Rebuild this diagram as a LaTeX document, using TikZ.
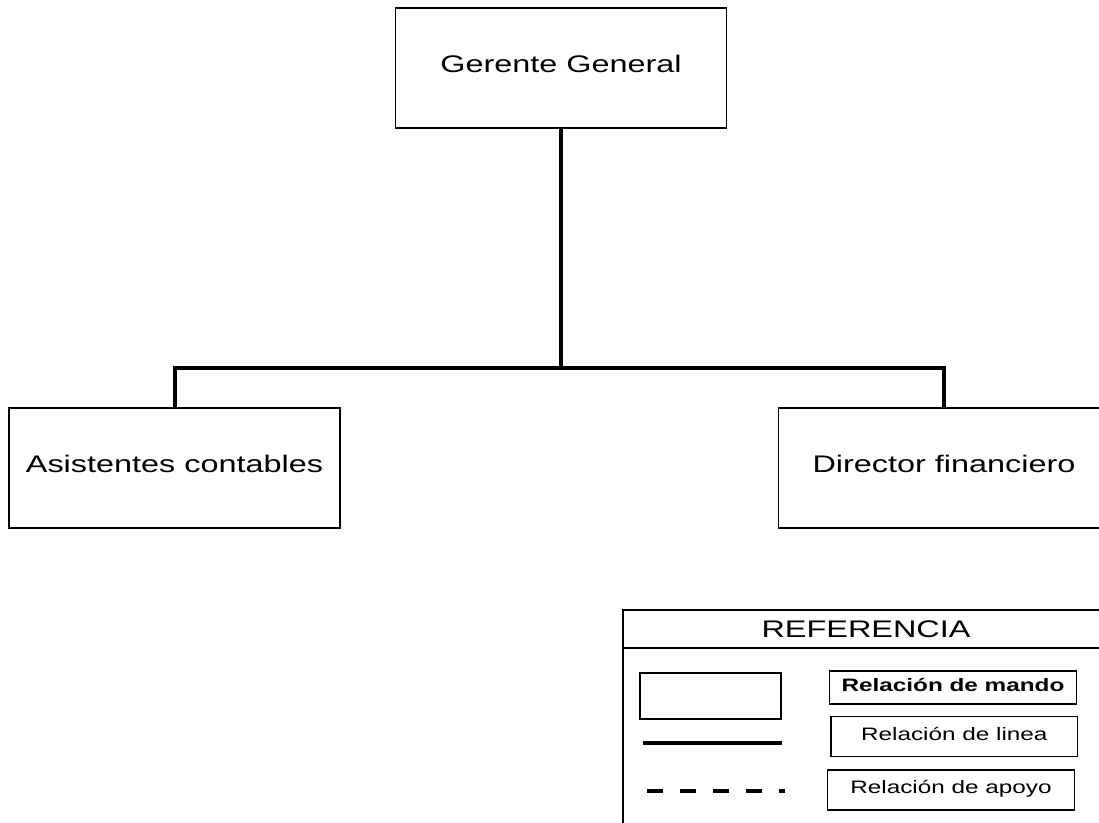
\documentclass[tikz,border=0pt]{standalone}
\usepackage{fontspec}
\setmainfont{Liberation Sans}[FakeStretch=1.35]
\usetikzlibrary{positioning}

\begin{document}
\begin{tikzpicture}[
    x=0.75pt, y=-0.75pt,
    caja/.style={rectangle, draw, line width=1.1pt, inner sep=0pt,
        minimum width=248pt, minimum height=90pt,
        text height=0.72em, text depth=0pt,
        font=\fontsize{18}{21.6}\selectfont},
    etiqueta/.style={rectangle, draw, line width=1.1pt, inner sep=0pt,
        minimum width=185pt, minimum height=30pt,
        text height=0.75em, text depth=0.2em,
        font=\fontsize{13.5}{16}\selectfont},
    muestra/.style={rectangle, draw, line width=1.1pt, inner sep=0pt,
        minimum width=105.75pt, minimum height=34.5pt},
    marco/.style={line width=1.1pt},
    linea/.style={line width=3pt},
    apoyo/.style={line width=3pt, dash pattern=on 12pt off 12.75pt}]

    \useasboundingbox (0,0) rectangle (1099,823);

    \node[caja] (gerente) at (561,68) {Gerente General};
    \node[caja] (asistentes) at (174.5,468) {Asistentes contables};
    \node[caja] (director) at (944,468) {Director financiero};
    \coordinate (rama) at (561,368);

    \draw[linea] (gerente) -- (rama);
    \draw[linea] (asistentes) |- (rama) -| (director);

    \draw[marco] (623,610) rectangle (1120,835);
    \draw[marco] (623,648) -- (1120,648);
    \node[font=\fontsize{18}{21.6}\selectfont] (referencia) at (866,629.5) {REFERENCIA};

    \node[muestra] (cuadro) at (710.5,696) {};
    \draw[linea] (643,743) -- (782,743);
    \draw[apoyo] (647,791) -- (785,791);

    \node[etiqueta, minimum height=24.75pt, font=\fontsize{13.5}{16}\selectfont\bfseries] (mando) at (953,687.5) {Relación de mando};
    \node[etiqueta, below=8.25pt of mando, xshift=1pt] (relinea) {Relación de linea};
    \node[etiqueta, below=9pt of relinea, xshift=-2.5pt] (reapoyo) {Relación de apoyo};

\end{tikzpicture}
\end{document}
